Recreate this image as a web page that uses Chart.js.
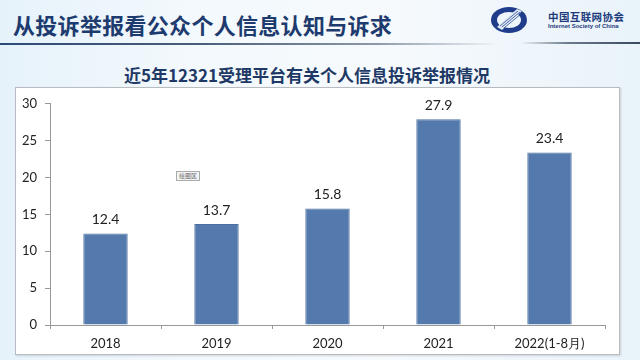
<!DOCTYPE html>
<html>
<head>
<meta charset="utf-8">
<script src="https://cdn.jsdelivr.net/npm/chart.js@4/dist/chart.umd.min.js"></script>
<style>
  html,body{margin:0;padding:0;}
  body{width:640px;height:360px;position:relative;overflow:hidden;
    background:linear-gradient(90deg,#e6f2fa 0%,#f3f9fd 30%,#f6fafd 60%,#e9f3fa 100%);
    font-family:"Noto Sans CJK SC","Noto Sans",sans-serif;}
  #title{position:absolute;left:13px;top:8px;font-size:22px;font-weight:bold;color:#1d3b6e;letter-spacing:0.3px;white-space:nowrap;}
  #rule1{position:absolute;left:0;top:43px;width:500px;height:2px;background:linear-gradient(90deg,#2c4a78 0%,#4a5e78 40%,#8a98a8 75%,rgba(180,190,200,0) 100%);}
  #rule2{position:absolute;left:520px;top:42px;width:120px;height:2px;background:linear-gradient(90deg,rgba(160,170,180,0) 0%,#6a7a8a 40%,#3a4a5e 100%);}
  #logoText1{position:absolute;left:548px;top:9px;font-size:10.5px;font-weight:bold;color:#1d3b7a;letter-spacing:0.4px;white-space:nowrap;}
  #logoText2{position:absolute;left:548px;top:23px;font-family:"Liberation Sans",sans-serif;font-size:6px;font-weight:bold;color:#1d3b7a;white-space:nowrap;}
  #logo{position:absolute;left:489px;top:5px;}
  #sub{position:absolute;left:0;width:614px;top:62px;text-align:center;font-size:17px;font-weight:bold;color:#1f3966;white-space:nowrap;}
  #frame{position:absolute;left:15px;top:87px;width:603px;height:266px;background:#fff;border:1px solid #b8bcc0;box-shadow:1px 1px 2px rgba(0,0,0,0.15);}
  #c{position:absolute;left:0;top:0;}
  #tag{position:absolute;left:176px;top:171px;font-size:6px;color:#666;border:1px solid #aaa;background:#f4f4f4;padding:0 2px;line-height:8px;}
</style>
</head>
<body>
<div id="title">从投诉举报看公众个人信息认知与诉求</div>
<svg id="logo" width="40" height="30" viewBox="0 0 40 30">
  <ellipse cx="20" cy="15" rx="18" ry="13" fill="#1f3d8a"/>
  <ellipse cx="20" cy="15" rx="12" ry="8" fill="#eef5fb"/>
  <path d="M8 22 L28 4 L33 6 L13 25 Z" fill="#dfe8f4"/>
  <path d="M11 21 L29 6" stroke="#2a4a94" stroke-width="0.8"/>
  <path d="M13 22 L31 7" stroke="#2a4a94" stroke-width="0.8"/>
  <path d="M15 23 L32 9" stroke="#2a4a94" stroke-width="0.8"/>
</svg>
<div id="logoText1">中国互联网协会</div>
<div id="logoText2">Internet Society of China</div>
<div id="rule1"></div>
<div id="rule2"></div>
<div id="sub">近5年12321受理平台有关个人信息投诉举报情况</div>
<div id="frame"><canvas id="c" width="603" height="266"></canvas></div>
<div id="tag">绘图区</div>
<script>
const categories = ["2018", "2019", "2020", "2021", "2022(1-8月)"];
const values = [12.4, 13.7, 15.8, 27.9, 23.4];
const yTicks = [0, 5, 10, 15, 20, 25, 30];

const labelFont = '"Lato","Liberation Sans",sans-serif';

const valueLabels = {
  id: 'valueLabels',
  afterDatasetsDraw(chart) {
    const ctx = chart.ctx;
    const meta = chart.getDatasetMeta(0);
    ctx.save();
    ctx.font = '14px ' + labelFont;
    ctx.fillStyle = '#222';
    ctx.textAlign = 'center';
    ctx.textBaseline = 'bottom';
    meta.data.forEach((bar, i) => {
      ctx.fillText(values[i].toFixed(1), bar.x, bar.y - 7);
    });
    ctx.restore();
  }
};

new Chart(document.getElementById('c'), {
  type: 'bar',
  data: {
    labels: categories,
    datasets: [{
      data: values,
      backgroundColor: '#5479ad',
      borderColor: '#4d70a2',
      borderWidth: 1,
      barPercentage: 0.8,
      categoryPercentage: 0.5
    }]
  },
  options: {
    responsive: false,
    animation: false,
    devicePixelRatio: 1,
    layout: { padding: { top: 10, right: 14, left: 0, bottom: 0 } },
    plugins: { legend: { display: false }, tooltip: { enabled: false } },
    scales: {
      x: {
        afterFit(s) { s.height = 29; },
        grid: { display: true, drawOnChartArea: false, drawTicks: true, tickLength: 4, color: '#999', offset: true },
        border: { color: '#999', width: 1 },
        ticks: { color: '#222', font: { family: labelFont, size: 13 }, padding: 7, maxRotation: 0 }
      },
      y: {
        min: 0, max: 30,
        afterFit(s) { s.width = 34; },
        afterBuildTicks(s) { s.ticks = yTicks.map(v => ({ value: v })); },
        grid: { display: true, drawOnChartArea: false, drawTicks: true, tickLength: 5, color: '#999' },
        border: { color: '#999', width: 1 },
        ticks: { color: '#222', font: { family: labelFont, size: 13 }, padding: 8 }
      }
    }
  },
  plugins: [valueLabels]
});
</script>
</body>
</html>
